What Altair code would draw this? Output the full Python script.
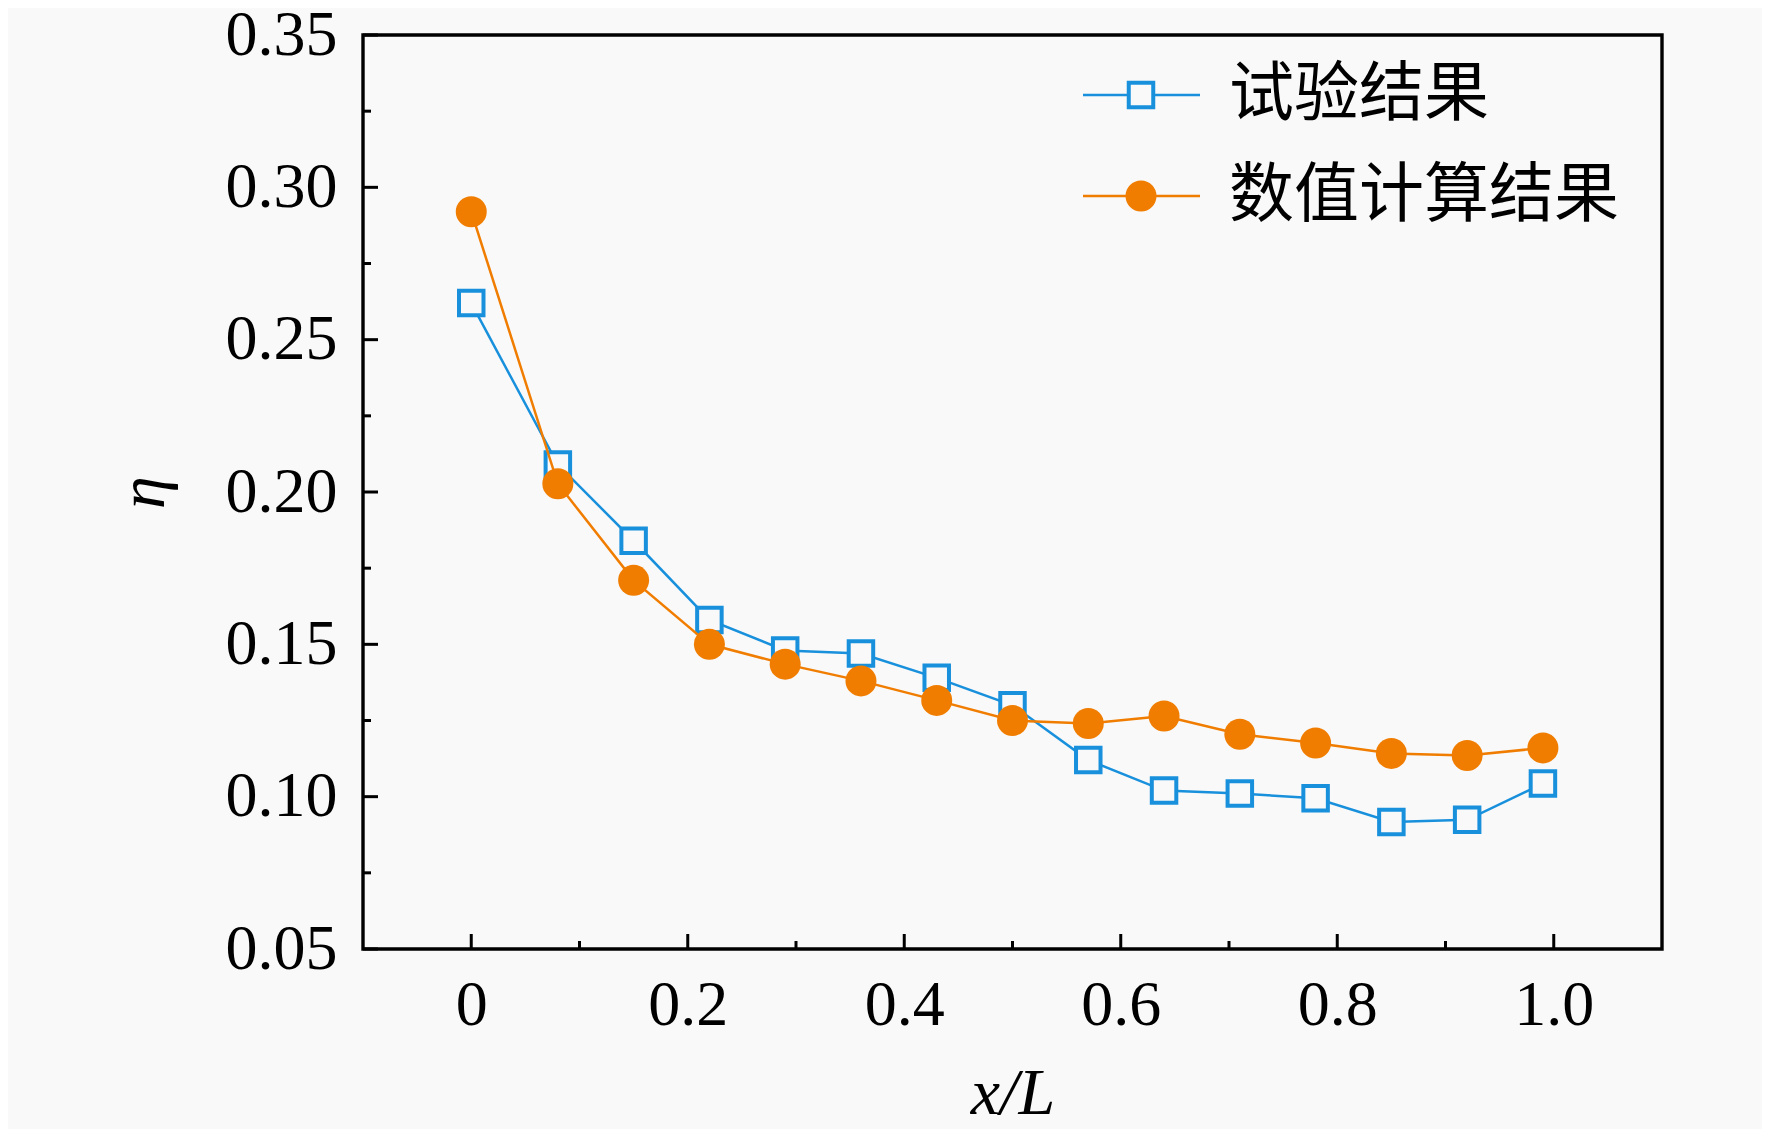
import altair as alt
import pandas as pd

# ---- data ----
x_vals = [0, 0.08, 0.15, 0.22, 0.29, 0.36, 0.43, 0.50, 0.57, 0.64, 0.71, 0.78, 0.85, 0.92, 0.99]
test_vals = [0.262, 0.209, 0.184, 0.158, 0.148, 0.147, 0.139, 0.130, 0.112, 0.102, 0.101, 0.0995, 0.0917, 0.0924, 0.1043]
calc_vals = [0.292, 0.2027, 0.171, 0.150, 0.1435, 0.138, 0.1316, 0.125, 0.124, 0.1265, 0.1205, 0.1176, 0.1142, 0.1135, 0.116]
series_names = ["试验结果", "数值计算结果"]

x_major = [0, 0.2, 0.4, 0.6, 0.8, 1.0]
x_minor = [0.1, 0.3, 0.5, 0.7, 0.9]
y_major = [0.05, 0.10, 0.15, 0.20, 0.25, 0.30, 0.35]
y_minor = [0.075, 0.125, 0.175, 0.225, 0.275, 0.325]

BLUE = "#1890dc"
ORANGE = "#f07d00"
BG = "#f9f9f9"
W, H = 1299, 914
SERIF = "Liberation Serif"

test_df = pd.DataFrame({"x": x_vals, "y": test_vals})
calc_df = pd.DataFrame({"x": x_vals, "y": calc_vals})

xscale = alt.Scale(domain=[-0.1, 1.1], nice=False, zero=False)
yscale = alt.Scale(domain=[0.05, 0.35], nice=False, zero=False)

x_axis = alt.Axis(values=x_major, title="x/L", ticks=False, tickSize=0, domain=False, grid=False,
                  labelExpr="datum.value == 0 ? '0' : format(datum.value, '.1f')",
                  labelPadding=24, titlePadding=24)
y_axis = alt.Axis(values=y_major, title="η", ticks=False, tickSize=0, domain=False, grid=False,
                  format=".2f", labelPadding=26, titlePadding=48)

X = alt.X("x:Q", scale=xscale, axis=x_axis)
Y = alt.Y("y:Q", scale=yscale, axis=y_axis)

blue_line = alt.Chart(test_df).mark_line(color=BLUE, strokeWidth=2.5).encode(x=X, y=Y)
blue_pts = alt.Chart(test_df).mark_point(shape="square", fill=BG, stroke=BLUE, strokeWidth=4,
                                         size=600, opacity=1, fillOpacity=1).encode(x=X, y=Y)
orange_line = alt.Chart(calc_df).mark_line(color=ORANGE, strokeWidth=2.5).encode(x=X, y=Y)
orange_pts = alt.Chart(calc_df).mark_point(shape="circle", filled=True, color=ORANGE,
                                           size=960, opacity=1).encode(x=X, y=Y)

# inward ticks (same encodings/axes as the data layers so the axes merge)
def xticks(vals, length):
    return alt.Chart(pd.DataFrame({"x": vals})).mark_rule(color="black", strokeWidth=3).encode(
        x=X, y=alt.value(H), y2=alt.value(H - length))

def yticks(vals, length):
    return alt.Chart(pd.DataFrame({"y": vals})).mark_rule(color="black", strokeWidth=3).encode(
        y=Y, x=alt.value(0), x2=alt.value(length))

ticks = [xticks(x_major, 15), xticks(x_minor, 8), yticks(y_major, 15), yticks(y_minor, 8)]

# legend
LX1, LX2, LXM, LXT = 720, 837, 778, 866
LY = [60, 161]

def legend_row(i, mark_kwargs):
    d = pd.DataFrame({"name": [series_names[i]]})
    base = alt.Chart(d)
    color = mark_kwargs.pop("line_color")
    r = base.mark_rule(color=color, strokeWidth=2.5).encode(
        x=alt.value(LX1), x2=alt.value(LX2), y=alt.value(LY[i]))
    p = base.mark_point(opacity=1, **mark_kwargs).encode(x=alt.value(LXM), y=alt.value(LY[i]))
    t = base.mark_text(align="left", baseline="middle", font="Noto Sans CJK SC", fontSize=65,
                       color="black").encode(x=alt.value(LXT), y=alt.value(LY[i]),
                                             text=alt.Text("name:N"))
    return [r, p, t]

legend = (legend_row(0, dict(line_color=BLUE, shape="square", fill=BG, stroke=BLUE, strokeWidth=4,
                             size=600, fillOpacity=1))
          + legend_row(1, dict(line_color=ORANGE, shape="circle", filled=True, color=ORANGE, size=960)))

chart = alt.layer(blue_line, blue_pts, orange_line, orange_pts, *ticks, *legend).properties(
    width=W, height=H,
    autosize=alt.AutoSizeParams(type="none"),
    padding={"left": 355, "top": 27, "right": 100, "bottom": 180},
    background=BG,
).configure_view(stroke="black", strokeWidth=3.4).configure_axis(
    labelFont=SERIF, labelFontSize=64, labelColor="black",
    titleFont=SERIF, titleFontSize=66, titleFontStyle="italic", titleFontWeight="normal",
    titleColor="black",
)

chart.save("out.html", embed_options={"renderer": "svg", "actions": False})
